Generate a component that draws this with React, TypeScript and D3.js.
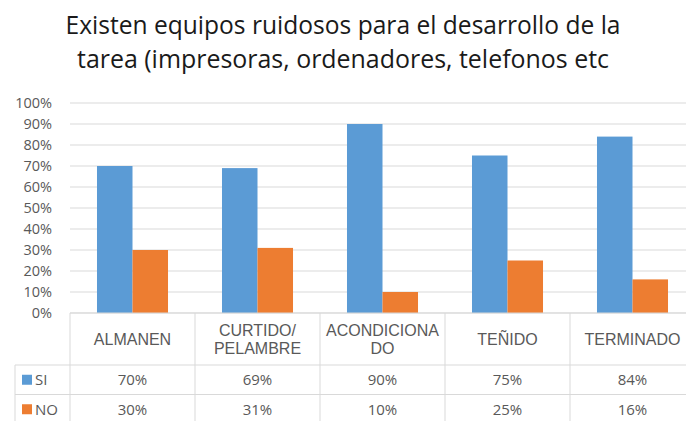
import React from "react";
import * as d3 from "d3";

const categories: string[][] = [["ALMANEN"], ["CURTIDO/", "PELAMBRE"], ["ACONDICIONA", "DO"], ["TEÑIDO"], ["TERMINADO"]];
const seriesNames = ["SI", "NO"];
const siValues = [70, 69, 90, 75, 84];
const noValues = [30, 31, 10, 25, 16];
const yTicks = [0, 10, 20, 30, 40, 50, 60, 70, 80, 90, 100];
const titleLines = ["Existen equipos ruidosos para el desarrollo de la", "tarea (impresoras, ordenadores, telefonos etc"];

const W = 686, H = 421;
const colors = ["#5B9BD5", "#ED7D31"];
const gridColor = "#D9D9D9";
const textColor = "#595959";
const font = "'Open Sans', sans-serif";
const headFont = "'Liberation Sans', Arial, sans-serif";

export default function App() {
  const left = 70, right = 695, top = 103, bottom = 313;
  const rowH = 52, dataRowH = 29.5;
  const legendLeft = 15;
  const keys = categories.map((c) => c.join(" "));
  const x0 = d3.scaleBand<string>().domain(keys).range([left, right]).padding(0);
  const x1 = d3.scaleBand<string>().domain(seriesNames).range([0, x0.bandwidth()]).paddingInner(0).paddingOuter(0.76);
  const y = d3.scaleLinear().domain([0, 100]).range([bottom, top]);
  const series = [siValues, noValues];
  const fmt = (v: number) => d3.format(".0%")(v / 100);

  const headerBottom = bottom + rowH;
  const rowBottoms = [headerBottom + dataRowH, headerBottom + 2 * dataRowH];

  return (
    <svg width={W} height={H} style={{ position: "absolute", left: 0, top: 0, background: "#fff" }} fontFamily={font}>
      <rect x={0} y={0} width={W} height={H} fill="#fff" />
      {titleLines.map((t, i) => (
        <text key={i} x={W / 2} y={34 + i * 34} textAnchor="middle" fontSize={25} fill="#1a1a1a"
          textLength={i === 0 ? 555 : 532} lengthAdjust="spacingAndGlyphs">{t}</text>
      ))}
      {yTicks.map((t) => (
        <g key={t}>
          <line x1={left} x2={right} y1={y(t)} y2={y(t)} stroke={gridColor} strokeWidth={1} />
          <text x={52} y={y(t)} dy="0.35em" textAnchor="end" fontSize={14.5} fill={textColor}>{t}%</text>
        </g>
      ))}
      {keys.map((k, ci) => (
        <g key={k}>
          {series.map((vals, si) => (
            <rect key={si} x={(x0(k) as number) + (x1(seriesNames[si]) as number)} y={y(vals[ci])}
              width={x1.bandwidth()} height={y(0) - y(vals[ci])} fill={colors[si]} />
          ))}
        </g>
      ))}
      {/* table lines */}
      <line x1={left} x2={right} y1={bottom} y2={bottom} stroke={gridColor} />
      <line x1={legendLeft} x2={right} y1={headerBottom} y2={headerBottom} stroke={gridColor} />
      {rowBottoms.map((rb, i) => (
        <line key={i} x1={legendLeft} x2={right} y1={rb} y2={rb} stroke={gridColor} />
      ))}
      <line x1={legendLeft} x2={legendLeft} y1={headerBottom} y2={H + 5} stroke={gridColor} />
      {keys.map((k) => (
        <line key={k} x1={x0(k) as number} x2={x0(k) as number} y1={bottom} y2={H + 5} stroke={gridColor} />
      ))}
      {categories.map((lines, ci) => {
        const cx = (x0(keys[ci]) as number) + x0.bandwidth() / 2;
        const cy = bottom + rowH / 2;
        const lh = 18.5;
        return lines.map((l, li) => (
          <text key={ci + "-" + li} x={cx} y={cy + (li - (lines.length - 1) / 2) * lh} dy="0.36em"
            textAnchor="middle" fontSize={16} fontFamily={headFont} fill={textColor}>{l}</text>
        ));
      })}
      {series.map((vals, si) => {
        const cy = headerBottom + si * dataRowH + dataRowH / 2;
        return (
          <g key={si}>
            <rect x={22} y={cy - 5} width={10} height={10} fill={colors[si]} />
            <text x={35} y={cy} dy="0.36em" fontSize={15} fill={textColor}>{seriesNames[si]}</text>
            {vals.map((v, ci) => (
              <text key={ci} x={(x0(keys[ci]) as number) + x0.bandwidth() / 2} y={cy} dy="0.36em"
                textAnchor="middle" fontSize={15} fill={textColor}>{fmt(v)}</text>
            ))}
          </g>
        );
      })}
    </svg>
  );
}
